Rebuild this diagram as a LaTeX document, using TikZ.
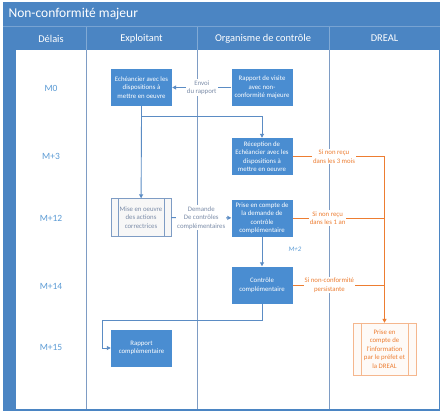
\documentclass[tikz,border=0pt]{standalone}
\usepackage{fontspec}
\setmainfont{Carlito}
\usepackage{tikz}
\usetikzlibrary{arrows.meta}
\usepackage{xcolor}
\definecolor{frameblue}{HTML}{4B85C3}
\definecolor{boxblue}{HTML}{4A8DD1}
\definecolor{lineblue}{HTML}{5B8CC4}
\definecolor{laneline}{HTML}{7E9CC4}
\definecolor{tagtext}{HTML}{7B8CA8}
\definecolor{rowtext}{HTML}{5B9BD5}
\definecolor{orangeline}{HTML}{ED7D31}

\begin{document}
\begin{tikzpicture}[x=1pt,y=-1pt]
\tikzset{>={Triangle[width=4pt,length=4pt]}}
\tikzstyle{process} =[fill=boxblue, text=white, minimum width=61pt, minimum height=37pt, inner sep=1pt, align=center, font=\fontsize{6.8}{8.5}\selectfont]
\tikzstyle{predef} =[draw=laneline, fill=black!3, text=tagtext, minimum width=60pt, minimum height=38pt, inner sep=1pt, align=center, font=\fontsize{6.8}{8.5}\selectfont]
\tikzstyle{tag} =[fill=white, text=tagtext, inner sep=1pt, align=center, font=\fontsize{6.8}{8.5}\selectfont]
\tikzstyle{otag} =[tag, text=orangeline]
\tikzstyle{row} =[text=rowtext, font=\fontsize{9.5}{11}\selectfont]
\tikzstyle{head} =[text=white, font=\fontsize{10.4}{12}\selectfont]
\tikzstyle{flow} =[draw=lineblue, line width=0.9pt]
\tikzstyle{alert} =[draw=orangeline, line width=0.9pt]

\useasboundingbox (0,0) rectangle (444,416);
% frame and lanes
\fill[frameblue] (3,2) rectangle (440,411);
\fill[white] (16,50) rectangle (438.5,409);
\draw[frameblue!75!white, line width=0.6pt] (3,26.5) -- (440,26.5);
\foreach \x in {86,197,329} {
  \draw[frameblue!70!white, line width=0.6pt] (\x,26.5) -- (\x,50);
  \draw[laneline, line width=0.8pt] (\x,50) -- (\x,409);
}
\node[text=white, anchor=west, font=\fontsize{13.5}{15}\selectfont] (title) at (5,14) {Non-conformité majeur};
\node[head] (hdelais) at (51,38.5) {Délais};
\node[head] (hexpl) at (141.5,38.5) {Exploitant};
\node[head] (horga) at (263,38.5) {Organisme de contrôle};
\node[head] (hdreal) at (384.5,38.5) {DREAL};

\node[row] (m0) at (51,88) {M0};
\node[row] (m3) at (51,156) {M+3};
\node[row] (m12) at (51,218) {M+12};
\node[row] (m14) at (51,286) {M+14};
\node[row] (m15) at (51,347) {M+15};

% boxes
\node[process] (echeancier) at (141.5,87.5) {Echéancier avec les\\dispositions à\\mettre en oeuvre};
\node[process] (visite) at (262,87.5) {Rapport de visite\\avec non-\\conformité majeure};
\node[process] (reception) at (262,156.5) {Réception de\\Echéancier avec les\\dispositions à\\mettre en oeuvre};
\node[predef] (mise) at (141,217.5) {Mise en oeuvre\\des actions\\correctrices};
\node[process] (prise) at (262,218) {Prise en compte de\\la demande de\\contrôle\\complémentaire};
\node[process] (controle) at (262,285) {Contrôle\\complémentaire};
\node[process] (rapportc) at (141.5,348) {Rapport\\complémentaire};
\node[predef, draw=orangeline!55!white, fill=orangeline!4, text=orangeline, minimum width=63pt, minimum height=52pt] (dreal) at (384.5,349) {Prise en\\compte de\\l'information\\par le préfet et\\la DREAL};
\draw[laneline] ([xshift=7pt]mise.north west) -- ([xshift=7pt]mise.south west);
\draw[laneline] ([xshift=-7pt]mise.north east) -- ([xshift=-7pt]mise.south east);
\draw[orangeline!55!white] ([xshift=8pt]dreal.north west) -- ([xshift=8pt]dreal.south west);
\draw[orangeline!55!white] ([xshift=-8pt]dreal.north east) -- ([xshift=-8pt]dreal.south east);

% blue flows
\coordinate (split) at (141.5,116);
\coordinate (back) at (102,320);
\draw[flow,->] (visite) -- (echeancier) node[tag, midway] {Envoi\\du rapport};
\draw[flow] (echeancier) -- (split);
\draw[flow,->] (split) -- (mise);
\draw[flow,->] (split) -| (reception);
\draw[flow,->] (mise) -- (prise) node[tag, midway] {Demande\\De contrôles\\complémentaires};
\draw[flow,->] (prise) -- (controle);
\node[text=rowtext, font=\fontsize{6.8}{8.5}\selectfont\itshape] (m2) at (295,249) {M+2};
\draw[flow] (controle) |- (back);
\draw[flow,->] (back) |- (rapportc);

% orange flows
\coordinate (drop) at (reception.east -| dreal);
\draw[alert] (reception) -- (drop) node[otag, pos=0.45] {Si non reçu\\dans les 3 mois};
\draw[alert] (prise) -- (prise -| dreal) node[otag, pos=0.38] {Si non reçu\\dans les 1 an};
\draw[alert] (controle) -- (controle -| dreal) node[otag, pos=0.4] {Si non-conformité\\persistante};
\draw[alert, line width=1.4pt, ->] (drop) -- (dreal);
\end{tikzpicture}
\end{document}
